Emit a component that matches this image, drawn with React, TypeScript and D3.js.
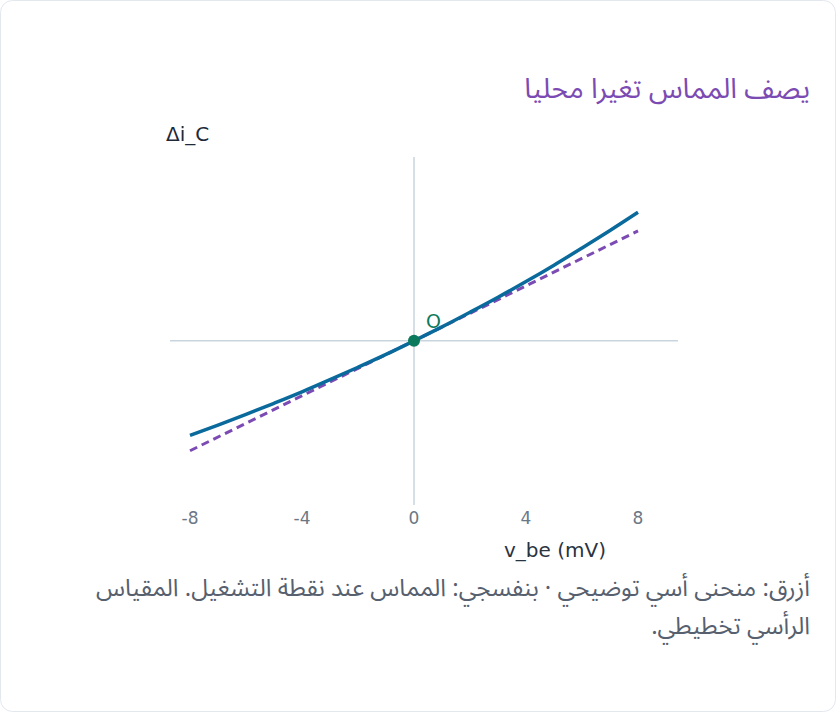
import React from "react";
import * as d3 from "d3";

const vbe = [-8, -7, -6, -5, -4, -3, -2, -1, 0, 1, 2, 3, 4, 5, 6, 7, 8];
const deltaIc = [-0.265, -0.236, -0.206, -0.175, -0.143, -0.109, -0.074, -0.038, 0, 0.039, 0.08, 0.122, 0.166, 0.212, 0.26, 0.309, 0.36];
const tangentV = [-8, 8];
const tangentI = [-0.308, 0.308];
const xTicks = [-8, -4, 0, 4, 8];
const opPoint = { v: 0, i: 0, label: "O" };

const title = "يصف المماس تغيرا محليا";
const yLabel = "Δi_C";
const xLabel = "v_be (mV)";
const caption1 = "أزرق: منحنى أسي توضيحي · بنفسجي: المماس عند نقطة التشغيل. المقياس";
const caption2 = "الرأسي تخطيطي.";

export default function App() {
  const W = 836, H = 712;
  const x = d3.scaleLinear().domain([-8, 8]).range([190, 638]);
  const y = d3.scaleLinear().domain([-0.46, 0.515]).range([505, 157]);
  const line = d3.line<number>().x((_, k) => x(vbe[k])).y((d) => y(d)).curve(d3.curveMonotoneX);
  const tline = d3.line<number>().x((_, k) => x(tangentV[k])).y((d) => y(d));
  const latin = "'DejaVu Sans', sans-serif";
  const arab = "'Noto Sans Arabic', 'Noto Naskh Arabic', 'Noto Sans', 'DejaVu Sans', sans-serif";
  const x0 = x(-8) - 20, x1 = x(8) + 40;
  return (
    <svg width={W} height={H} style={{ position: "absolute", left: 0, top: 0 }} fontFamily={latin}>
      <rect x={0.5} y={0.5} width={W - 1} height={H - 1} rx={12} fill="#ffffff" stroke="#e3e7ee" />
      <text x={810} y={98} textAnchor="start" direction="rtl" fontFamily={arab} fontSize={28} fill="#7b4bb3">{title}</text>
      <text x={166} y={141} fontSize={20} fill="#1e2a3a">{yLabel}</text>
      <line x1={x0} x2={x1} y1={y(0)} y2={y(0)} stroke="#c9d5de" strokeWidth={1.5} />
      <line x1={x(0)} x2={x(0)} y1={y(0.515)} y2={y(-0.46)} stroke="#c9d5de" strokeWidth={1.5} />
      {xTicks.map((t) => (
        <text key={t} x={x(t)} y={524} textAnchor="middle" fontSize={17} fill="#6b7785">{t}</text>
      ))}
      <text x={555} y={557} textAnchor="middle" fontSize={20} fill="#2a3340">{xLabel}</text>
      <path d={tline(tangentI) || ""} fill="none" stroke="#7b4bb3" strokeWidth={3} strokeDasharray="8,5" />
      <path d={line(deltaIc) || ""} fill="none" stroke="#0a6a9c" strokeWidth={3.5} />
      <circle cx={x(opPoint.v)} cy={y(opPoint.i)} r={6} fill="#0b7a5c" />
      <text x={x(opPoint.v) + 12} y={y(opPoint.i) - 13} fontSize={19} fill="#0b7a5c">{opPoint.label}</text>
      <text x={810} y={596} textAnchor="start" direction="rtl" fontFamily={arab} fontSize={24} fill="#56606e">{caption1}</text>
      <text x={810} y={634} textAnchor="start" direction="rtl" fontFamily={arab} fontSize={24} fill="#56606e">{caption2}</text>
    </svg>
  );
}
